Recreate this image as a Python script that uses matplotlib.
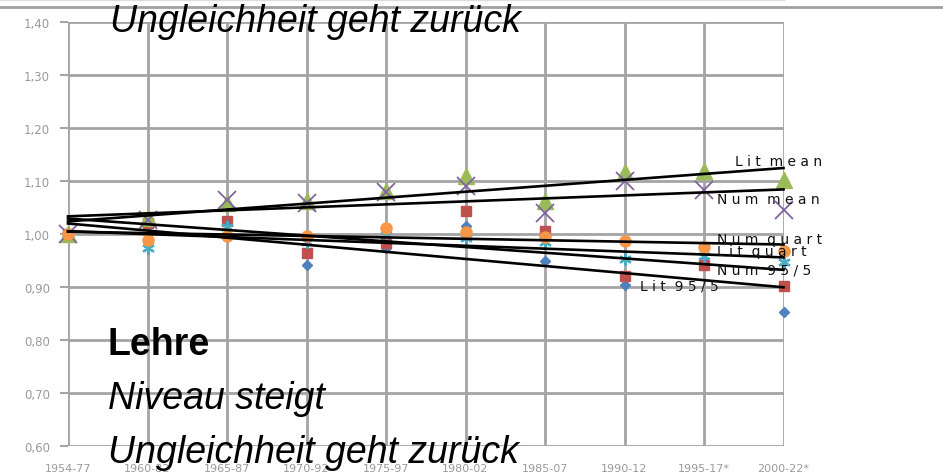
import numpy as np
import matplotlib
matplotlib.use("Agg")
import matplotlib.pyplot as plt
from matplotlib.lines import Line2D

# ---- data ----
categories = ["1954-77", "1960-82", "1965-87", "1970-92", "1975-97",
              "1980-02", "1985-07", "1990-12", "1995-17*", "2000-22*"]
lit_95_5  = [1.000, 1.015, 0.998, 0.941, 0.973, 1.015, 0.948, 0.903, 0.948, 0.853]
num_95_5  = [1.000, 1.020, 1.025, 0.964, 0.983, 1.044, 1.006, 0.920, 0.941, 0.902]
lit_mean  = [1.000, 1.030, 1.059, 1.062, 1.080, 1.110, 1.061, 1.116, 1.118, 1.102]
num_mean  = [1.000, 1.027, 1.064, 1.058, 1.078, 1.090, 1.040, 1.099, 1.083, 1.045]
lit_quart = [1.000, 0.974, 1.013, 0.985, 0.998, 0.992, 0.984, 0.953, 0.958, 0.946]
num_quart = [1.000, 0.989, 0.996, 0.996, 1.011, 1.004, 0.994, 0.987, 0.975, 0.968]
y_ticks = [0.6, 0.7, 0.8, 0.9, 1.0, 1.1, 1.2, 1.3, 1.4]

W, H = 943, 477
fig = plt.figure(figsize=(W / 100, H / 100), dpi=100)
fig.patch.set_facecolor("white")

left, right, top, bottom = 68, 783.5, 22.7, 447
ax = fig.add_axes([left / W, (H - bottom) / H, (right - left) / W, (bottom - top) / H])
x = np.arange(len(categories))
ax.set_xlim(0, len(categories) - 1)
ax.set_ylim(0.6, 1.4)
ax.set_yticks(y_ticks)
ax.set_yticklabels([f"{v:.2f}".replace(".", ",") for v in y_ticks])
ax.set_xticks(x)
ax.set_xticklabels(categories)
ax.grid(True, color="#a4a4a4", lw=2)
ax.set_axisbelow(True)
for s in ax.spines.values():
    s.set_visible(False)
ax.tick_params(axis="y", length=6, width=1.5, color="#a4a4a4", pad=7,
               labelsize=8.5, labelcolor="#9a9a9a")
ax.tick_params(axis="x", length=0, pad=12, labelsize=8, labelcolor="#9a9a9a")

series = [
    (lit_95_5, "Lit 95/5", dict(marker="D", ms=5, color="#4F81BD")),
    (num_95_5, "Num 95/5", dict(marker="s", ms=7, color="#C0504D")),
    (lit_mean, "Lit mean", dict(marker="^", ms=12, color="#9BBB59")),
    (num_mean, "Num mean", dict(marker="x", ms=13, mew=1.3, color="#8064A2")),
    (lit_quart, "Lit quart", dict(marker=(6, 2, 0), ms=9, mew=1.6, color="#4BACC6")),
    (num_quart, "Num quart", dict(marker="o", ms=8, color="#F79646")),
]
for vals, name, st in series:
    ax.plot(x, vals, ls="none", clip_on=False, zorder=3, **st)

# trend-line labels: (text, left pixel x, centre pixel y)
label_text = {
    "Lit mean": ("L i t  m e a n", 735, 162),
    "Num mean": ("N u m  m e a n", 717, 200),
    "Num quart": ("N u m  q u a r t", 717, 240),
    "Lit quart": ("L i t  q u a r t", 717, 252),
    "Num 95/5": ("N u m  9 5 / 5", 717, 270),
    "Lit 95/5": ("L i t  9 5 / 5", 640, 287),
}
for vals, name, st in series:
    k, b = np.polyfit(x, vals, 1)
    ax.plot(x[[0, -1]], k * x[[0, -1]] + b, color="black", lw=1.9, zorder=4,
            clip_on=False)
    txt, px, py = label_text[name]
    fig.text(px / W, 1 - py / H, txt, ha="left", va="center",
             fontsize=10, color="#111111", zorder=5)

# top separator lines
fig.add_artist(Line2D([0, 1], [1 - 8 / H] * 2, transform=fig.transFigure,
                      color="#a0a0a0", lw=2))
fig.add_artist(Line2D([0, 783.5 / W], [1 - 0.8 / H] * 2, transform=fig.transFigure,
                      color="#dddddd", lw=1))

big = dict(family="Liberation Sans", fontsize=27, color="black", va="baseline",
           ha="left", zorder=10)
fig.text(110 / W, 1 - 32 / H, "Ungleichheit geht zurück", style="italic", **big)
fig.text(108 / W, 1 - 355 / H, "Lehre", weight="bold", **big)
fig.text(108 / W, 1 - 409 / H, "Niveau steigt", style="italic", **big)
fig.text(108 / W, 1 - 463 / H, "Ungleichheit geht zurück", style="italic", **big)

fig.savefig("out.png", dpi=100)
